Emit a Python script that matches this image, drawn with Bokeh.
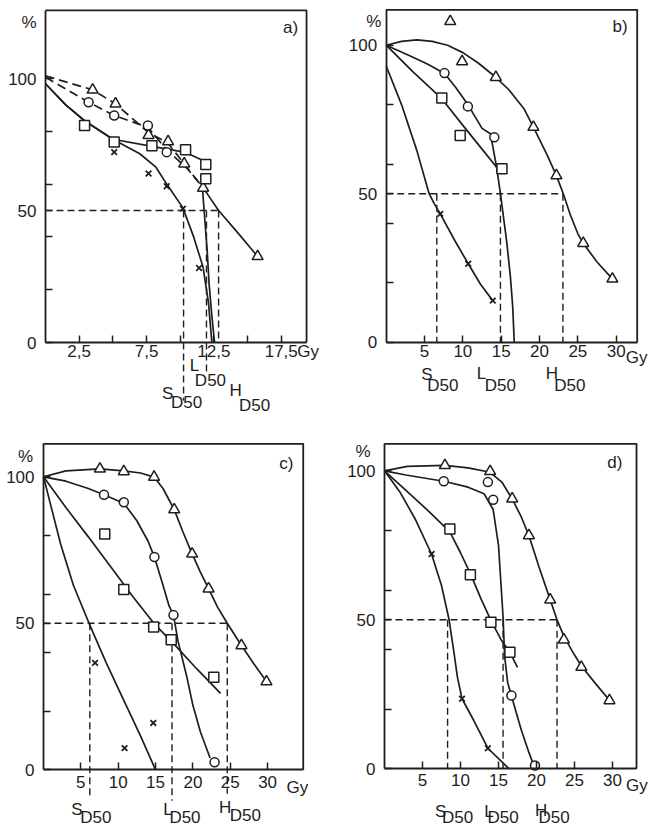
from bokeh.plotting import figure
from bokeh.models import Range1d, FixedTicker, Label
from bokeh.layouts import column, row
from bokeh.embed import file_html
from bokeh.resources import INLINE

INK = "#1e1e1e"
FONT = "Liberation Sans"
FS = "17px"

# ---------------- data ----------------
# panel a) : markers
a_tri_x = [3.5, 5.2, 7.65, 9.1, 10.3, 11.7, 15.75]
a_tri_y = [95.7, 90.4, 78.5, 76.1, 67.7, 58.5, 32.6]
a_cir_x = [3.2, 5.1, 7.6, 9.0]
a_cir_y = [91.0, 86.0, 82.2, 72.1]
a_sq_x = [2.9, 5.1, 7.9, 10.4, 11.9, 11.9]
a_sq_y = [82.2, 75.9, 74.5, 73.0, 67.4, 62.0]
a_x_x = [5.1, 7.65, 9.0, 10.2, 11.4]
a_x_y = [72.1, 64.0, 59.2, 50.7, 28.2]
# panel a) : curves
a_H1_x = [0, 3.5, 5.2, 7.65, 9.1, 10.3, 11.7]
a_H1_y = [101, 95.7, 90.4, 79.5, 75.5, 67.7, 58.5]
a_H2_x = [11.7, 12.0, 12.85, 14.2, 15.75]
a_H2_y = [58.5, 56.4, 50, 42, 32.6]
a_C1_x = [0, 3.2, 5.1, 7.6, 9.0, 10.5, 11.65]
a_C1_y = [100.5, 91, 86, 81.5, 73, 66, 59]
a_C2_x = [11.65, 11.85, 12.0, 12.15, 12.35, 12.55]
a_C2_y = [58.5, 45, 35, 22, 10, 0]
a_L_x = [0, 1.5, 2.9, 5.0, 7.9, 10.4, 11.9]
a_L_y = [98, 90, 84, 77, 74.3, 72, 68.5]
a_S_x = [0, 1.5, 2.9, 5.0, 7.0, 8.2, 9.0, 10.2, 11.0, 11.7, 12.1, 12.35]
a_S_y = [98, 90, 84, 77, 71.5, 66.4, 60, 51, 40, 28.5, 15, 0]
a_D50 = {"S": 10.25, "L": 11.95, "H": 12.85}

# panel b)
b_tri_x = [8.35, 9.9, 14.3, 19.2, 22.2, 25.7, 29.5]
b_tri_y = [108.0, 94.5, 89.2, 72.4, 56.1, 33.3, 21.3]
b_cir_x = [7.6, 10.65, 14.1]
b_cir_y = [90.6, 79.4, 69.0]
b_sq_x = [7.25, 9.65, 15.1]
b_sq_y = [82.2, 69.6, 58.4]
b_x_x = [7.05, 10.7, 13.9]
b_x_y = [43.2, 26.4, 14.0]
b_H_x = [0, 2, 4, 6, 8, 10, 12, 14.3, 16, 18, 19.2, 21, 22.2, 23.1, 24, 25, 25.7, 27.5, 29.5]
b_H_y = [100, 101.3, 101.8, 101.3, 100, 97.5, 94, 89.2, 85, 78.5, 72.4, 63, 56.1, 50, 43, 36.5, 33.3, 27, 21.3]
b_C_x = [0, 3, 5.5, 7.6, 9, 10.65, 12.5, 13.6, 14.4, 14.9, 15.7, 16.2, 16.5, 16.7]
b_C_y = [100, 96.5, 93.5, 90.5, 86, 80, 72, 70.2, 58.9, 50, 34.2, 22, 12, 0]
b_L_x = [0, 3.5, 7.25, 10, 12.5, 14.4]
b_L_y = [100, 91, 82, 73, 65, 58.9]
b_S_x = [0, 2, 4, 5.6, 6.3, 7.05, 9, 10.7, 12.3, 13.9]
b_S_y = [93, 80, 64.5, 50, 46.5, 43.2, 34, 26.4, 19.5, 14]
b_D50 = {"S": 6.6, "L": 14.9, "H": 23.05}

# panel c)
c_tri_x = [7.55, 10.75, 14.8, 17.5, 19.9, 22.1, 26.5, 29.85]
c_tri_y = [102.7, 101.8, 99.9, 88.8, 73.7, 61.8, 42.4, 30.1]
c_cir_x = [8.1, 10.75, 14.85, 17.4, 22.9]
c_cir_y = [93.9, 91.3, 72.6, 52.8, 2.6]
c_sq_x = [8.2, 10.75, 14.75, 17.1, 22.8]
c_sq_y = [80.5, 61.5, 48.7, 44.4, 31.6]
c_x_x = [6.9, 14.7, 10.85]
c_x_y = [36.5, 16.0, 7.4]
c_H_x = [0, 3, 7.55, 10.75, 13, 14.8, 16, 17.5, 18.7, 19.9, 21, 22.1, 23.3, 24.6, 26.5, 28.2, 29.85]
c_H_y = [100, 102, 102.7, 102, 101.3, 99.9, 96, 88.8, 81, 73.7, 67.5, 61.8, 55.5, 50, 42.4, 36, 30.1]
c_C_x = [0, 3, 6, 8.1, 10.75, 12.5, 14, 14.85, 16, 16.8, 17.4, 18, 19.2, 20, 21, 22.3]
c_C_y = [100, 98.5, 96, 93.9, 91, 85, 78, 72.6, 63, 56, 52.8, 44, 31.6, 22, 13, 4]
c_L_x = [0, 3, 6, 9, 12, 14.77, 17.45, 20.5, 23.7]
c_L_y = [100, 89.5, 79.5, 69.3, 59, 50, 43, 34.5, 26.1]
c_S_x = [0, 1, 2.3, 4, 6.1, 8.4, 10.75, 13, 15]
c_S_y = [100, 90, 77, 63, 50, 36.5, 23.7, 11.5, 0]
c_D50 = {"S": 6.2, "L": 17.2, "H": 24.6}

# panel d)
d_tri_x = [7.95, 13.9, 16.8, 19.0, 21.8, 23.6, 25.9, 29.6]
d_tri_y = [101.8, 99.8, 90.6, 78.3, 56.7, 43.3, 34.1, 22.9]
d_cir_x = [7.8, 13.6, 14.3, 16.7, 19.8]
d_cir_y = [96.5, 96.2, 90.3, 24.6, 1.1]
d_sq_x = [8.6, 11.3, 14.0, 16.5]
d_sq_y = [80.5, 65.1, 49.2, 39.1]
d_x_x = [6.2, 10.2, 13.6]
d_x_y = [72.1, 23.5, 6.9]
d_H_x = [0, 3, 7.95, 11, 13.9, 15.5, 16.8, 18, 19, 20.3, 21.8, 22.7, 23.6, 24.7, 25.9, 27.8, 29.6]
d_H_y = [100, 101.5, 101.8, 101, 99.5, 96, 90.6, 84.5, 78.3, 68, 56.7, 50, 44.5, 39.5, 34.5, 28.5, 23]
d_C_x = [0, 3, 7.8, 11, 13.1, 14.3, 15.0, 15.3, 15.6, 15.8, 16.2, 17, 18, 19, 19.8]
d_C_y = [100, 98.5, 96.5, 94.5, 92.3, 87, 75, 63, 51, 38, 29, 21.8, 13, 5.5, 0]
d_L_x = [0, 3, 6, 8.6, 10, 11.3, 12.7, 14, 15.3, 16.5, 17.5]
d_L_y = [100, 93, 86, 79.5, 72.5, 65.5, 57, 49.8, 43.5, 39.1, 34]
d_S_x = [0, 2, 4, 6.2, 7.5, 8.5, 9.1, 9.6, 10.2, 11.75, 13.6, 16.4]
d_S_y = [100, 93, 84, 72, 61.5, 50, 39.7, 30.7, 23.5, 16.2, 6.9, 0]
d_D50 = {"S": 8.3, "L": 15.6, "H": 22.7}

# axes ticks
y_ticks = [0, 20, 40, 50, 60, 80, 100]
y_tick_labels = ["0", "", "", "50", "", "", "100"]
a_x_ticks = [2.5, 5, 7.5, 10, 12.5, 15, 17.5]
a_x_tick_labels = ["2,5", "", "7,5", "", "12,5", "", "17,5"]
bcd_x_ticks = [5, 10, 15, 20, 25, 30]
bcd_x_tick_labels = ["5", "10", "15", "20", "25", "30"]


def txt(p, x, y, text, dx=0, dy=0, align="center"):
    p.add_layout(Label(x=x, y=y, x_offset=dx, y_offset=dy, text=text,
                       text_font=FONT, text_font_size=FS, text_color=INK,
                       text_align=align, text_baseline="middle"))


def make_panel(w, h, ax_px, ay_px, ppx, ppu, x_edge, y_edge, xticks, xlabels, xstand):
    # ax_px / ay_px: where the origin sits inside the figure (pixels from top-left)
    x_start = -ax_px / ppx
    x_end = (w - ax_px) / ppx
    y_end = ay_px / ppu
    y_start = -(h - ay_px) / ppu
    p = figure(width=w, height=h, x_range=Range1d(x_start, x_end),
               y_range=Range1d(y_start, y_end), output_backend="svg",
               toolbar_location=None, min_border_left=0, min_border_right=0,
               min_border_top=0, min_border_bottom=0)
    p.outline_line_color = None
    p.xgrid.visible = False
    p.ygrid.visible = False
    p.background_fill_color = "white"
    p.border_fill_color = "white"

    xa = p.xaxis[0]
    xa.fixed_location = 0
    xa.bounds = (0, x_edge)
    xa.ticker = FixedTicker(ticks=xticks)
    xa.major_label_overrides = {t: l for t, l in zip(xticks, xlabels)}
    ya = p.yaxis[0]
    ya.fixed_location = 0
    ya.bounds = (0, y_edge)
    ya.ticker = FixedTicker(ticks=y_ticks)
    ya.major_label_overrides = {t: l for t, l in zip(y_ticks, y_tick_labels)}
    for ax in (xa, ya):
        ax.axis_line_color = INK
        ax.axis_line_width = 1.8
        ax.major_tick_line_color = INK
        ax.major_tick_line_width = 1.5
        ax.major_tick_in = 7
        ax.major_tick_out = 0
        ax.minor_tick_line_color = None
        ax.major_label_text_font = FONT
        ax.major_label_text_font_size = FS
        ax.major_label_text_color = INK
    xa.major_label_standoff = xstand
    ya.major_label_standoff = 9
    # box top and right
    p.line([0, x_edge, x_edge], [y_edge, y_edge, 0], line_color=INK, line_width=1.8)
    return p


def curve(p, x, y, dash="solid"):
    p.line(x, y, line_color=INK, line_width=1.7, line_dash=dash)


def markers(p, tx, ty, cx, cy, sx, sy, xx, xy):
    p.scatter(tx, ty, marker="triangle", size=11, fill_color="white", line_color=INK, line_width=1.5)
    p.scatter(cx, cy, marker="circle", size=9, fill_color="white", line_color=INK, line_width=1.5)
    p.scatter(sx, sy, marker="square", size=10, fill_color="white", line_color=INK, line_width=1.5)
    p.scatter(xx, xy, marker="x", size=8, line_color=INK, line_width=1.8)


def d50(p, ppu, letter, xd, ext_px, dx1, dy1, dx2, dy2):
    p.segment(x0=[xd], y0=[50], x1=[xd], y1=[-ext_px / ppu], line_color=INK,
              line_width=1.4, line_dash="7 4")
    txt(p, xd, 0, letter, dx1, dy1)
    txt(p, xd, 0, "D50", dx2, dy2)


def half_line(p, D):
    p.line([0, D["H"]], [50, 50], line_color=INK, line_width=1.4, line_dash="7 4")


# ---------------- panel a ----------------
ppu_a = 2.64
pa = make_panel(320, 430, 45, 342, 13.47, ppu_a, 19.38, 125.8,
                a_x_ticks, a_x_tick_labels, 2)
half_line(pa, a_D50)
d50(pa, ppu_a, "S", a_D50["S"], 58, -16, -51, 3, -60)
d50(pa, ppu_a, "L", a_D50["L"], 31, -12, -23, 4, -38)
d50(pa, ppu_a, "H", a_D50["H"], 0, 17, -48, 36, -63)
curve(pa, a_H1_x, a_H1_y, "9 5")
curve(pa, a_H2_x, a_H2_y)
curve(pa, a_C1_x, a_C1_y, "9 5")
curve(pa, a_C2_x, a_C2_y)
curve(pa, a_L_x, a_L_y)
curve(pa, a_S_x, a_S_y)
markers(pa, a_tri_x, a_tri_y, a_cir_x, a_cir_y, a_sq_x, a_sq_y, a_x_x, a_x_y)
txt(pa, 19.5, -3.4, "Gy")
txt(pa, -1.22, 121.2, "%")
txt(pa, 18.2, 119.3, "a)")

# ---------------- panel b ----------------
ppu_b = 2.97
pb = make_panel(329, 430, 65.7, 341.7, 7.667, ppu_b, 32.74, 111.9,
                bcd_x_ticks, bcd_x_tick_labels, 3)
half_line(pb, b_D50)
d50(pb, ppu_b, "S", b_D50["S"], 0, -10, -32, 6, -43)
d50(pb, ppu_b, "L", b_D50["L"], 0, -19, -31, 0, -43)
d50(pb, ppu_b, "H", b_D50["H"], 0, -11, -31, 7, -43)
curve(pb, b_H_x, b_H_y)
curve(pb, b_C_x, b_C_y)
curve(pb, b_L_x, b_L_y)
curve(pb, b_S_x, b_S_y)
markers(pb, b_tri_x, b_tri_y, b_cir_x, b_cir_y, b_sq_x, b_sq_y, b_x_x, b_x_y)
txt(pb, 32.65, -5.2, "Gy")
txt(pb, -1.63, 108.0, "%")
txt(pb, 30.5, 106.3, "b)")

# ---------------- panel c ----------------
ppu_c = 2.93
pc = make_panel(320, 396, 43, 339.3, 7.47, ppu_c, 34.77, 111.26,
                bcd_x_ticks, bcd_x_tick_labels, 6)
half_line(pc, c_D50)
d50(pc, ppu_c, "S", c_D50["S"], 29, -13, -40, 6, -48)
d50(pc, ppu_c, "L", c_D50["L"], 31, -4, -40, 13, -48)
d50(pc, ppu_c, "H", c_D50["H"], 24, -2, -38, 18, -46)
curve(pc, c_H_x, c_H_y)
curve(pc, c_C_x, c_C_y)
curve(pc, c_L_x, c_L_y)
curve(pc, c_S_x, c_S_y)
markers(pc, c_tri_x, c_tri_y, c_cir_x, c_cir_y, c_sq_x, c_sq_y, c_x_x, c_x_y)
txt(pc, 34.0, -6.0, "Gy")
txt(pc, -2.41, 106.8, "%")
txt(pc, 32.5, 104.5, "c)")

# ---------------- panel d ----------------
ppu_d = 2.98
pd_ = make_panel(329, 396, 64, 338.3, 7.6, ppu_d, 33.16, 109.06,
                 bcd_x_ticks, bcd_x_tick_labels, 5)
half_line(pd_, d_D50)
d50(pd_, ppu_d, "S", d_D50["S"], 0, -7, -43, 10, -49)
d50(pd_, ppu_d, "L", d_D50["L"], 0, -14, -43, 0, -49)
d50(pd_, ppu_d, "H", d_D50["H"], 0, -16, -42, -3, -49)
curve(pd_, d_H_x, d_H_y)
curve(pd_, d_C_x, d_C_y)
curve(pd_, d_L_x, d_L_y)
curve(pd_, d_S_x, d_S_y)
markers(pd_, d_tri_x, d_tri_y, d_cir_x, d_cir_y, d_sq_x, d_sq_y, d_x_x, d_x_y)
txt(pd_, 33.2, -5.6, "Gy")
txt(pd_, -2.83, 106.5, "%")
txt(pd_, 30.3, 102.8, "d)")

layout = column(row(pa, pb), row(pc, pd_))
open("out.html", "w").write(file_html(layout, INLINE))
